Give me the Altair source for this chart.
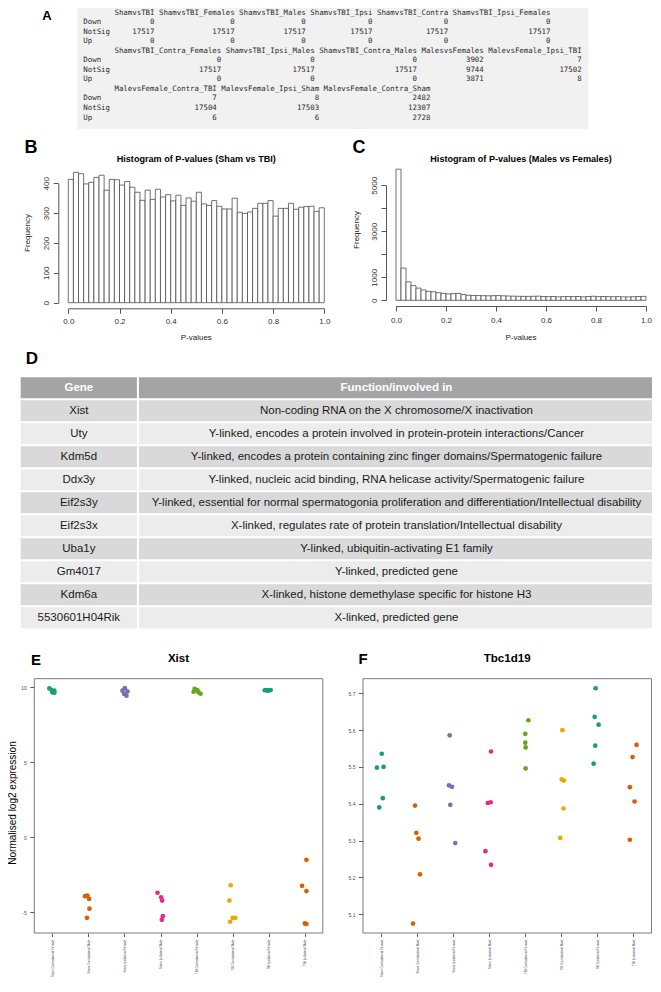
import json
import altair as alt
import pandas as pd

W, H = 644, 970
SANS = "Liberation Sans"
MONO = "DejaVu Sans Mono"

# ---------------- Panel A : decideTests summary ----------------
a_columns = ["ShamvsTBI", "ShamvsTBI_Females", "ShamvsTBI_Males", "ShamvsTBI_Ipsi",
             "ShamvsTBI_Contra", "ShamvsTBI_Ipsi_Females", "ShamvsTBI_Contra_Females",
             "ShamvsTBI_Ipsi_Males", "ShamvsTBI_Contra_Males", "MalesvsFemales",
             "MalevsFemale_Ipsi_TBI", "MalevsFemale_Contra_TBI", "MalevsFemale_Ipsi_Sham",
             "MalevsFemale_Contra_Sham"]
a_down = [0, 0, 0, 0, 0, 0, 0, 0, 0, 3902, 7, 7, 8, 2482]
a_notsig = [17517, 17517, 17517, 17517, 17517, 17517, 17517, 17517, 17517, 9744,
            17502, 17504, 17503, 12307]
a_up = [0, 0, 0, 0, 0, 0, 0, 0, 0, 3871, 8, 6, 6, 2728]
a_rows = ["Down", "NotSig", "Up"]
a_blocks = [(0, 6), (6, 11), (11, 14)]

# ---------------- Panels B, C : p-value histograms (50 bins) ----------------
b_counts = [413, 437, 432, 398, 403, 420, 427, 377, 413, 412,
            394, 406, 387, 370, 343, 377, 346, 380, 354, 362,
            341, 360, 326, 351, 340, 370, 331, 326, 342, 323,
            314, 314, 350, 303, 299, 304, 316, 333, 333, 342,
            290, 316, 316, 333, 313, 320, 322, 323, 306, 318]
c_counts = [5700, 1400, 800, 640, 530, 450, 390, 370, 330, 300,
            280, 290, 300, 250, 220, 210, 205, 200, 195, 200,
            205, 195, 185, 180, 175, 170, 170, 175, 180, 165,
            160, 165, 150, 160, 165, 160, 165, 150, 165, 175,
            160, 165, 160, 155, 160, 150, 150, 155, 165, 170]
hist_ticks = [0.0, 0.2, 0.4, 0.6, 0.8, 1.0]

# ---------------- Panel D : gene table ----------------
d_header = ["Gene", "Function/involved in"]
d_genes = ["Xist", "Uty", "Kdm5d", "Ddx3y", "Eif2s3y", "Eif2s3x", "Uba1y", "Gm4017",
           "Kdm6a", "5530601H04Rik"]
d_functions = [
    "Non-coding RNA on the X chromosome/X inactivation",
    "Y-linked, encodes a protein involved in protein-protein interactions/Cancer",
    "Y-linked, encodes a protein containing zinc finger domains/Spermatogenic failure",
    "Y-linked, nucleic acid binding, RNA helicase activity/Spermatogenic failure",
    "Y-linked, essential for normal spermatogonia proliferation and differentiation/Intellectual disability",
    "X-linked, regulates rate of protein translation/Intellectual disability",
    "Y-linked, ubiquitin-activating E1 family",
    "Y-linked, predicted gene",
    "X-linked, histone demethylase specific for histone H3",
    "X-linked, predicted gene",
]

# ---------------- Panels E, F : expression strip plots ----------------
groups = ["Sham Contralateral Female", "Sham Contralateral Male", "Sham Ipsilateral Female",
          "Sham Ipsilateral Male", "TBI Contralateral Female", "TBI Contralateral Male",
          "TBI Ipsilateral Female", "TBI Ipsilateral Male"]
palette = ["#1B9E77", "#D95F02", "#7570B3", "#E7298A", "#66A61E", "#E6AB02", "#1B9E77", "#D95F02"]

xist_values = [[9.91, 9.82, 9.76, 9.65, 9.63],
               [-3.92, -3.88, -4.10, -4.75, -5.36],
               [9.93, 9.76, 9.71, 9.54, 9.43],
               [-3.69, -3.99, -4.21, -5.25, -5.49],
               [9.89, 9.80, 9.69, 9.65, 9.56],
               [-3.19, -4.21, -5.62, -5.36, -5.36],
               [9.79, 9.80, 9.78, 9.80, 9.76],
               [-1.50, -3.23, -3.58, -5.73, -5.77]]
xist_jitter = [[-0.083, -0.027, 0.055, 0.0, 0.055],
               [-0.094, -0.03, 0.02, 0.03, -0.04],
               [0.01, -0.055, 0.083, -0.008, 0.055],
               [-0.083, 0.017, 0.044, 0.063, 0.036],
               [-0.055, 0.02, -0.083, 0.055, 0.11],
               [-0.055, -0.09, -0.07, 0.0, 0.074],
               [-0.11, -0.055, 0.0, 0.055, -0.04],
               [0.046, -0.074, 0.046, 0.0, 0.046]]
tbc_values = [[5.536, 5.498, 5.500, 5.415, 5.390],
              [5.395, 5.321, 5.305, 5.208, 5.074],
              [5.586, 5.450, 5.446, 5.397, 5.293],
              [5.542, 5.402, 5.404, 5.271, 5.234],
              [5.627, 5.590, 5.566, 5.553, 5.496],
              [5.600, 5.466, 5.463, 5.387, 5.307],
              [5.714, 5.636, 5.615, 5.558, 5.509],
              [5.560, 5.527, 5.445, 5.406, 5.302]]
tbc_jitter = [[0.02, -0.115, 0.07, 0.05, -0.05],
              [-0.058, -0.022, 0.04, 0.08, -0.113],
              [-0.096, -0.116, -0.033, -0.08, 0.058],
              [0.05, -0.04, 0.04, -0.105, 0.05],
              [0.085, 0.0, 0.0, 0.01, 0.01],
              [0.03, 0.01, 0.07, 0.06, -0.03],
              [-0.05, -0.077, 0.033, -0.06, -0.105],
              [0.085, -0.025, -0.1, 0.03, -0.1]]


# ---------------- helpers ----------------
def note(text, x, y, size, bold=False, angle=0, align="center", baseline="middle",
         color="#000000", font=SANS):
    kw = dict(align=align, baseline=baseline, fontSize=size, font=font, color=color)
    if bold:
        kw["fontWeight"] = "bold"
    if angle:
        kw["angle"] = angle
    return alt.Chart(pd.DataFrame({"t": [text]})).mark_text(**kw).encode(
        x=alt.value(x), y=alt.value(y), text="t:N")


layers = []

# ---------- A ----------
a_lines = []
for start, end in a_blocks:
    idx = list(range(start, end))
    widths = [max(len(a_columns[i]), len(str(a_down[i])), len(str(a_notsig[i])), len(str(a_up[i])))
              for i in idx]
    rw = max(len(r) for r in a_rows)
    a_lines.append(" " * rw + "".join(" " + a_columns[i].rjust(w) for i, w in zip(idx, widths)))
    for name, vals in zip(a_rows, (a_down, a_notsig, a_up)):
        a_lines.append(name.ljust(rw) + "".join(" " + str(vals[i]).rjust(w) for i, w in zip(idx, widths)))
# zero-width space first so that the leading padding is not trimmed away
a_df = pd.DataFrame({"line": list(range(len(a_lines))),
                     "text": ["\u200b" + s.replace(" ", "\u00a0") for s in a_lines]})

a_box = alt.Chart(pd.DataFrame({"x0": [0], "x1": [1], "y0": [0], "y1": [1]})).mark_rect(
    fill="#f1f1f1").encode(
    x=alt.X("x0:Q", scale=alt.Scale(domain=[0, 1], range=[69.3, 580.3]), axis=None),
    x2="x1",
    y=alt.Y("y0:Q", scale=alt.Scale(domain=[0, 1], range=[0, 121]), axis=None),
    y2="y1")
a_text = alt.Chart(a_df).mark_text(align="left", baseline="middle", font=MONO, fontSize=7.4,
                                   color="#2b2b2b").encode(
    x=alt.value(75.3),
    y=alt.Y("line:O", scale=alt.Scale(type="point", domain=list(range(len(a_lines))),
                                      range=[4.5, 109.5], padding=0), axis=None),
    text="text:N")
layers += [a_box, a_text, note("A", 39, 8, 13, bold=True)]


# ---------- B, C ----------
def histogram(counts, xr, yr, ydom, x_axis_y, y_axis_x, yvals, xpad, ylabel_expr=None):
    df = pd.DataFrame({"lo": [i / 50 for i in range(50)],
                       "hi": [(i + 1) / 50 for i in range(50)],
                       "n": counts, "zero": [0] * 50})
    common = dict(grid=False, labelFont=SANS, labelFontSize=8, labelColor="#333333",
                  domainColor="#555555", tickColor="#555555", domainWidth=1, tickWidth=1,
                  title=None, labelFlush=False, labelOverlap=False, tickSize=5)
    yaxis = dict(orient="left", offset=-y_axis_x, values=yvals, labelAngle=270, format="d",
                 labelAlign="center", labelBaseline="bottom", labelPadding=2.5, **common)
    if ylabel_expr:
        yaxis["labelExpr"] = ylabel_expr
    return alt.Chart(df).mark_rect(fill="white", stroke="#4d4d4d", strokeWidth=0.8).encode(
        x=alt.X("lo:Q", scale=alt.Scale(domain=[0, 1], range=xr, nice=False, zero=False),
                axis=alt.Axis(orient="bottom", offset=x_axis_y - H, values=hist_ticks,
                              format=".1f", labelPadding=xpad, **common)),
        x2="hi",
        y=alt.Y("n:Q", scale=alt.Scale(domain=ydom, range=yr, nice=False, zero=False),
                axis=alt.Axis(**yaxis)),
        y2="zero")


layers += [
    histogram(b_counts, [60.3, 316.3], [294.7, 175.3], [0, 400], 300.3, 50.3,
              [0, 100, 200, 300, 400], 4.3),
    note("Histogram of P-values (Sham vs TBI)", 188.3, 151, 9.1, bold=True),
    note("Frequency", 19.5, 225, 8, angle=270, color="#222222"),
    note("P-values", 188.3, 330, 8, color="#222222"),
    note("B", 23, 140, 18, bold=True),
    histogram(c_counts, [388, 638], [292.3, 177.3], [0, 5000], 298, 378,
              [0, 1000, 2000, 3000, 4000, 5000], 5,
              "datum.value == 2000 || datum.value == 4000 ? '' : datum.label"),
    note("Histogram of P-values (Males vs Females)", 513, 151, 9.1, bold=True),
    note("Frequency", 348.5, 222, 8, angle=270, color="#222222"),
    note("P-values", 513, 330, 8, color="#222222"),
    note("C", 351, 140, 18, bold=True),
]

# ---------- D ----------
col_lo = [0.0, 0.1867]
col_hi = [0.1835, 1.0]
row_keys = ["Gene"] + d_genes
cells = []
for r, key in enumerate(row_keys):
    kind = "header" if r == 0 else ("dark" if r % 2 == 1 else "light")
    texts = d_header if r == 0 else [d_genes[r - 1], d_functions[r - 1]]
    for c in range(2):
        cells.append({"row": key, "kind": kind, "text": texts[c], "lo": col_lo[c],
                      "hi": col_hi[c], "mid": (col_lo[c] + col_hi[c]) / 2})
cells = pd.DataFrame(cells)
d_x = alt.Scale(domain=[0, 1], range=[12.7, 646], nice=False, zero=False)
d_y = alt.Scale(type="band", domain=row_keys, range=[369.3, 620.3], paddingInner=0.087,
                paddingOuter=0)
d_rect = alt.Chart(cells).mark_rect().encode(
    x=alt.X("lo:Q", scale=d_x, axis=None), x2="hi",
    y=alt.Y("row:N", scale=d_y, axis=None),
    fill=alt.Fill("kind:N", scale=alt.Scale(domain=["header", "dark", "light"],
                                            range=["#a4a4a4", "#d9d9d9", "#ececec"]),
                  legend=None))
d_head = alt.Chart(cells[cells["kind"] == "header"]).mark_text(
    font=SANS, fontSize=11.5, fontWeight="bold", color="white", baseline="middle").encode(
    x=alt.X("mid:Q", scale=d_x, axis=None), y=alt.Y("row:N", scale=d_y, axis=None), text="text:N")
d_body = alt.Chart(cells[cells["kind"] != "header"]).mark_text(
    font=SANS, fontSize=11.5, color="#1a1a1a", baseline="middle").encode(
    x=alt.X("mid:Q", scale=d_x, axis=None), y=alt.Y("row:N", scale=d_y, axis=None), text="text:N")
layers += [d_rect, d_head, d_body, note("D", 24, 351, 17, bold=True)]

# ---------- E, F ----------
E_TOP, E_BOTTOM = 670.7, 925.0


def strip(values, jitter, xr, ydom, yvals, ylabel_expr=None, yformat=None):
    rows = []
    for i, g in enumerate(groups):
        for v, j in zip(values[i], jitter[i]):
            rows.append({"group": g, "value": v, "pos": i + 1 + j})
    df = pd.DataFrame(rows)
    xs = alt.Scale(domain=[0.5, 8.5], range=xr, nice=False, zero=False)
    ys = alt.Scale(domain=ydom, range=[E_BOTTOM, E_TOP], nice=False, zero=False)
    box = alt.Chart(pd.DataFrame({"x0": [0.5], "x1": [8.5], "y0": [ydom[0]], "y1": [ydom[1]]})
                    ).mark_rect(fillOpacity=0, stroke="#7a7a7a", strokeWidth=1).encode(
        x=alt.X("x0:Q", scale=xs, axis=None), x2="x1",
        y=alt.Y("y0:Q", scale=ys, axis=None), y2="y1")
    common = dict(grid=False, domain=False, labelFont=SANS, labelColor="#4d4d4d",
                  tickColor="#333333", tickWidth=0.8, title=None, labelFlush=False,
                  labelOverlap=False)
    yaxis = dict(orient="left", offset=-xr[0], values=yvals, tickSize=4.5, labelPadding=3.5,
                 labelFontSize=5, **common)
    if ylabel_expr:
        yaxis["labelExpr"] = ylabel_expr
    if yformat:
        yaxis["format"] = yformat
    pts = alt.Chart(df).mark_circle(size=22, opacity=1).encode(
        x=alt.X("pos:Q", scale=xs,
                axis=alt.Axis(orient="bottom", offset=E_BOTTOM - H, values=list(range(1, 9)),
                              labelExpr=json.dumps(groups) + "[datum.value - 1]",
                              labelAngle=270, labelFontSize=3.1, tickSize=3.5, labelPadding=2.5,
                              labelLimit=300, **common)),
        y=alt.Y("value:Q", scale=ys, axis=alt.Axis(**yaxis)),
        color=alt.Color("group:N", scale=alt.Scale(domain=groups, range=palette), legend=None))
    return [box, pts]


layers += strip(xist_values, xist_jitter, [26.3, 314.8], [-6.37, 10.56], [-5, 0, 5, 10],
                ylabel_expr="'' + datum.value")
layers += [note("Xist", 170.5, 650.5, 11.6, bold=True),
           note("Normalised log2 expression", 5, 795, 10, angle=270),
           note("E", 28, 652, 15, bold=True)]
layers += strip(tbc_values, tbc_jitter, [355, 643.5], [5.0485, 5.740],
                [5.1, 5.2, 5.3, 5.4, 5.5, 5.6, 5.7], yformat=".1f")
layers += [note("Tbc1d19", 499.2, 650.5, 11.6, bold=True),
           note("F", 355, 651, 15, bold=True)]

chart = alt.layer(*layers).resolve_scale(
    x="independent", y="independent", color="independent", fill="independent"
).resolve_axis(x="independent", y="independent").properties(
    width=W, height=H, autosize=alt.AutoSizeParams(type="none"), padding=0,
    background="white"
).configure_view(stroke="transparent")

chart.save("out.html", embed_options={"renderer": "svg", "actions": False})
